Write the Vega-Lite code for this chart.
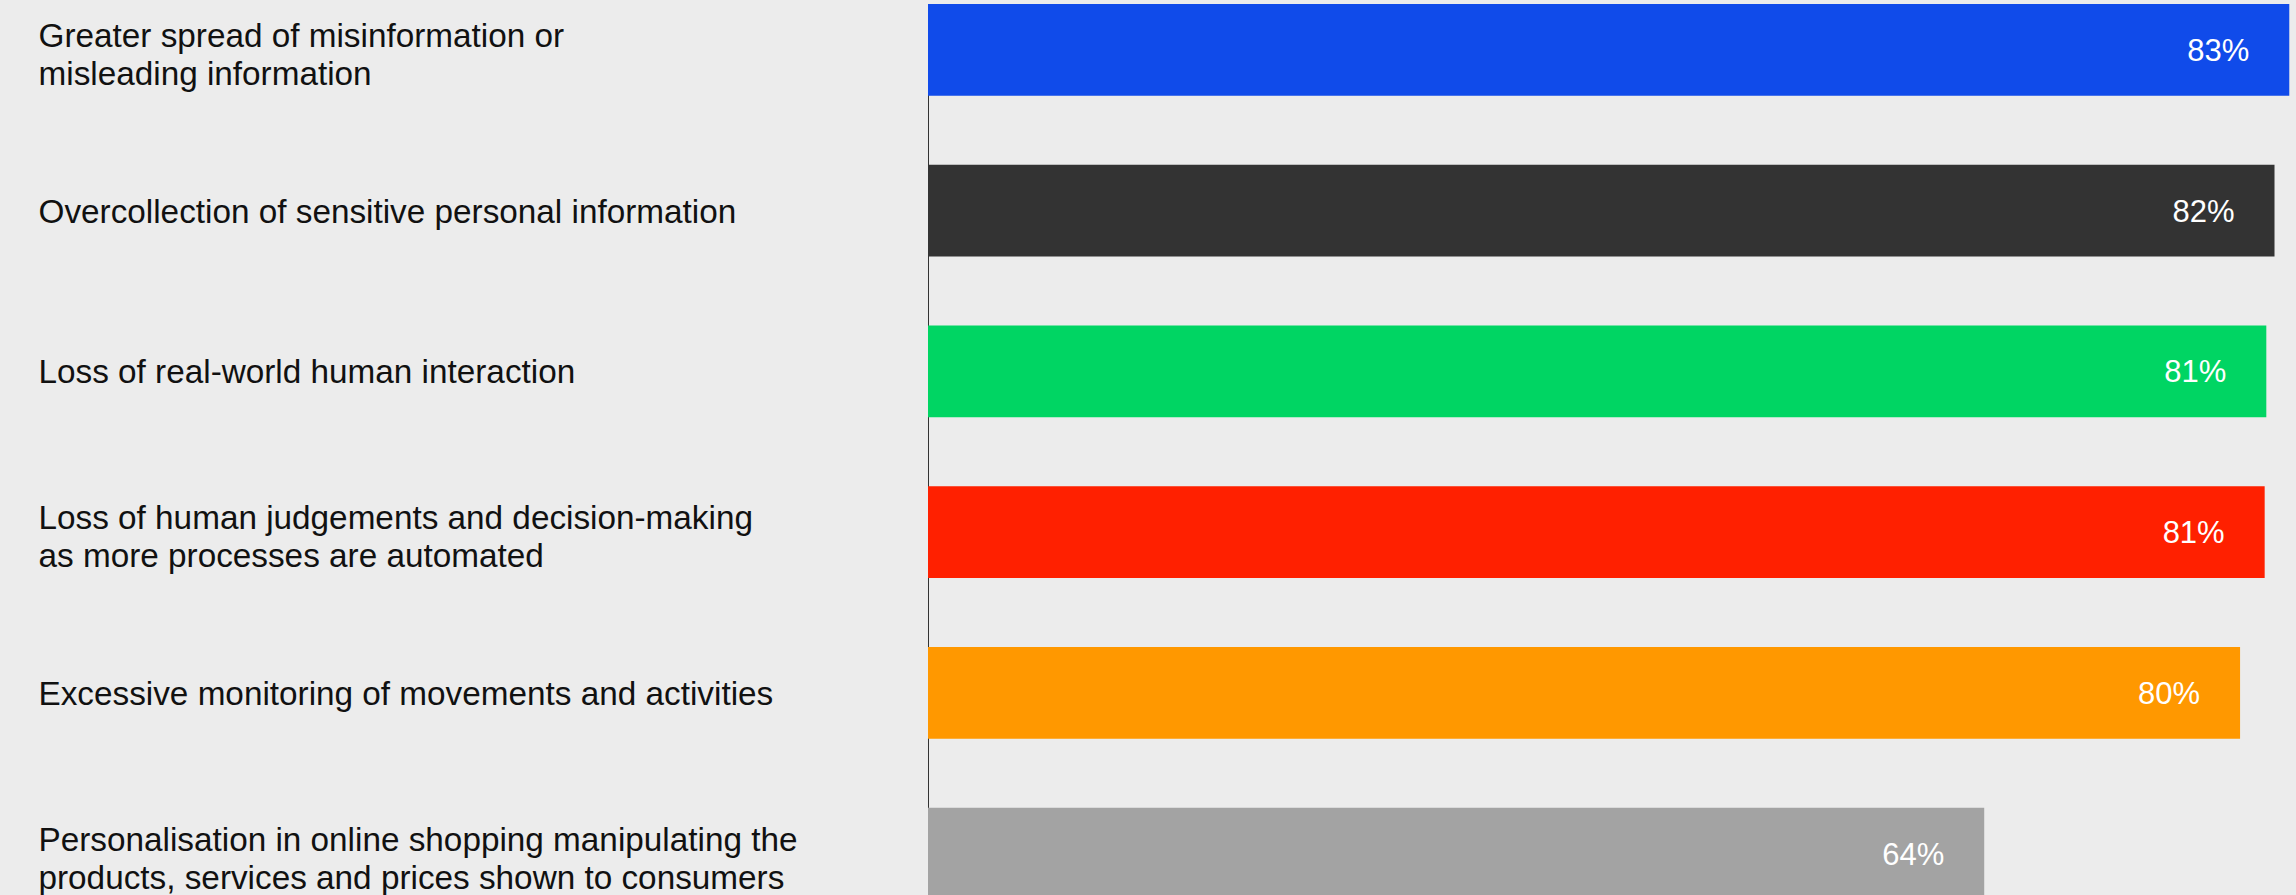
{
  "$schema": "https://vega.github.io/schema/vega-lite/v6.json",
  "autosize": {"type": "none"},
  "padding": {"left": 928, "top": 4, "right": 0, "bottom": 0},
  "width": 1368,
  "height": 891,
  "background": "#ececec",
  "config": {"view": {"stroke": null}},
  "data": {
    "values": [
      {"item": "Greater spread of misinformation or|misleading information", "value": 83, "pct": "83%", "color": "#104bea"},
      {"item": "Overcollection of sensitive personal information", "value": 82.1, "pct": "82%", "color": "#333333"},
      {"item": "Loss of real-world human interaction", "value": 81.6, "pct": "81%", "color": "#00d563"},
      {"item": "Loss of human judgements and decision-making|as more processes are automated", "value": 81.5, "pct": "81%", "color": "#ff2000"},
      {"item": "Excessive monitoring of movements and activities", "value": 80, "pct": "80%", "color": "#ff9800"},
      {"item": "Personalisation in online shopping manipulating the|products, services and prices shown to consumers", "value": 64.4, "pct": "64%", "color": "#a3a3a3"}
    ]
  },
  "encoding": {
    "y": {
      "field": "item",
      "type": "nominal",
      "sort": null,
      "scale": {"range": [0, 895.4], "paddingInner": 0.4295, "paddingOuter": 0},
      "axis": {
        "title": null,
        "ticks": false,
        "tickSize": 0,
        "labelPadding": 890,
        "labelAlign": "left",
        "labelBaseline": "middle",
        "labelOffset": {"condition": {"test": "indexof(datum.value, '|') >= 0", "value": -13}, "value": 2},
        "labelFont": "Liberation Sans",
        "labelFontSize": 33.3,
        "labelColor": "#111111",
        "labelLimit": 880,
        "labelLineHeight": 38,
        "labelExpr": "split(datum.label, '|')",
        "domainColor": "#333333",
        "domainWidth": 1,
        "grid": false
      }
    },
    "x": {
      "field": "value",
      "type": "quantitative",
      "scale": {"domain": [0, 83.41], "nice": false, "zero": true},
      "axis": null
    }
  },
  "layer": [
    {
      "mark": {"type": "bar"},
      "encoding": {
        "color": {"field": "color", "type": "nominal", "scale": null, "legend": null}
      }
    },
    {
      "mark": {"type": "text", "align": "right", "baseline": "middle", "dx": -40, "dy": 2, "color": "#ffffff", "font": "Liberation Sans", "fontSize": 31},
      "encoding": {
        "text": {"field": "pct", "type": "nominal"}
      }
    }
  ]
}
